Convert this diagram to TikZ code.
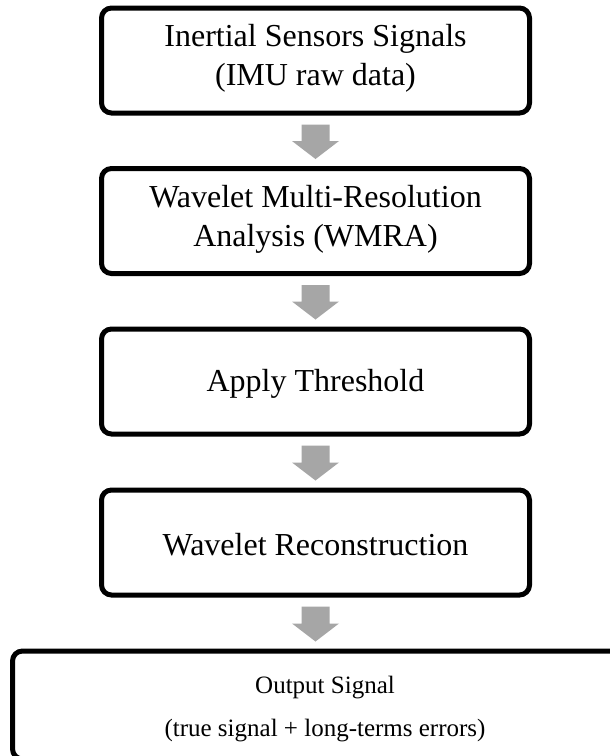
\documentclass[tikz,border=0pt]{standalone}
\usepackage{fontspec}
\setmainfont{Liberation Serif}
\usetikzlibrary{calc}
\definecolor{arrowgray}{HTML}{A6A6A6}
\tikzset{
  stagebox/.style={draw=black, line width=5pt, rounded corners=10pt, fill=white,
    minimum width=428pt, minimum height=105pt, inner sep=0pt, align=center,
    font=\fontsize{32}{39}\selectfont},
  oneline/.style={text height=26pt},
  twoline/.style={text depth=11pt},
}
% gray block arrow hanging between two stacked boxes
\newcommand\blockarrow[2]{%
  \path let \p1=(#1.south), \p2=(#2.north) in
    [fill=arrowgray]
    (\x1-14pt,\y1-9pt) -- (\x1+14pt,\y1-9pt) -- (\x1+14pt,\y2+25pt)
    -- (\x1+23.5pt,\y2+25pt) -- (\x1,\y2+7pt) -- (\x1-23.5pt,\y2+25pt)
    -- (\x1-14pt,\y2+25pt) -- cycle;}
\begin{document}
\begin{tikzpicture}[x=1pt,y=-1pt]
  \useasboundingbox[fill=white] (0,0) rectangle (610,756);
  \clip (0,0) rectangle (610,756);
  \node[stagebox, twoline] (imu) at (315.5,60.5) {Inertial Sensors Signals\\(IMU raw data)};
  \node[stagebox, twoline] (wmra) at (315.5,221) {Wavelet Multi-Resolution\\Analysis (WMRA)};
  \node[stagebox, oneline] (thr) at (315.5,381.5) {Apply Threshold};
  \node[stagebox, oneline] (rec) at (315.5,542.5) {Wavelet Reconstruction};
  \node[stagebox, minimum width=625pt, minimum height=108pt, text height=69pt,
        font=\fontsize{25}{43}\selectfont] (out) at (325,705)
        {Output Signal\\(true signal + long-terms errors)};
  \blockarrow{imu}{wmra}
  \blockarrow{wmra}{thr}
  \blockarrow{thr}{rec}
  \blockarrow{rec}{out}
\end{tikzpicture}
\end{document}
